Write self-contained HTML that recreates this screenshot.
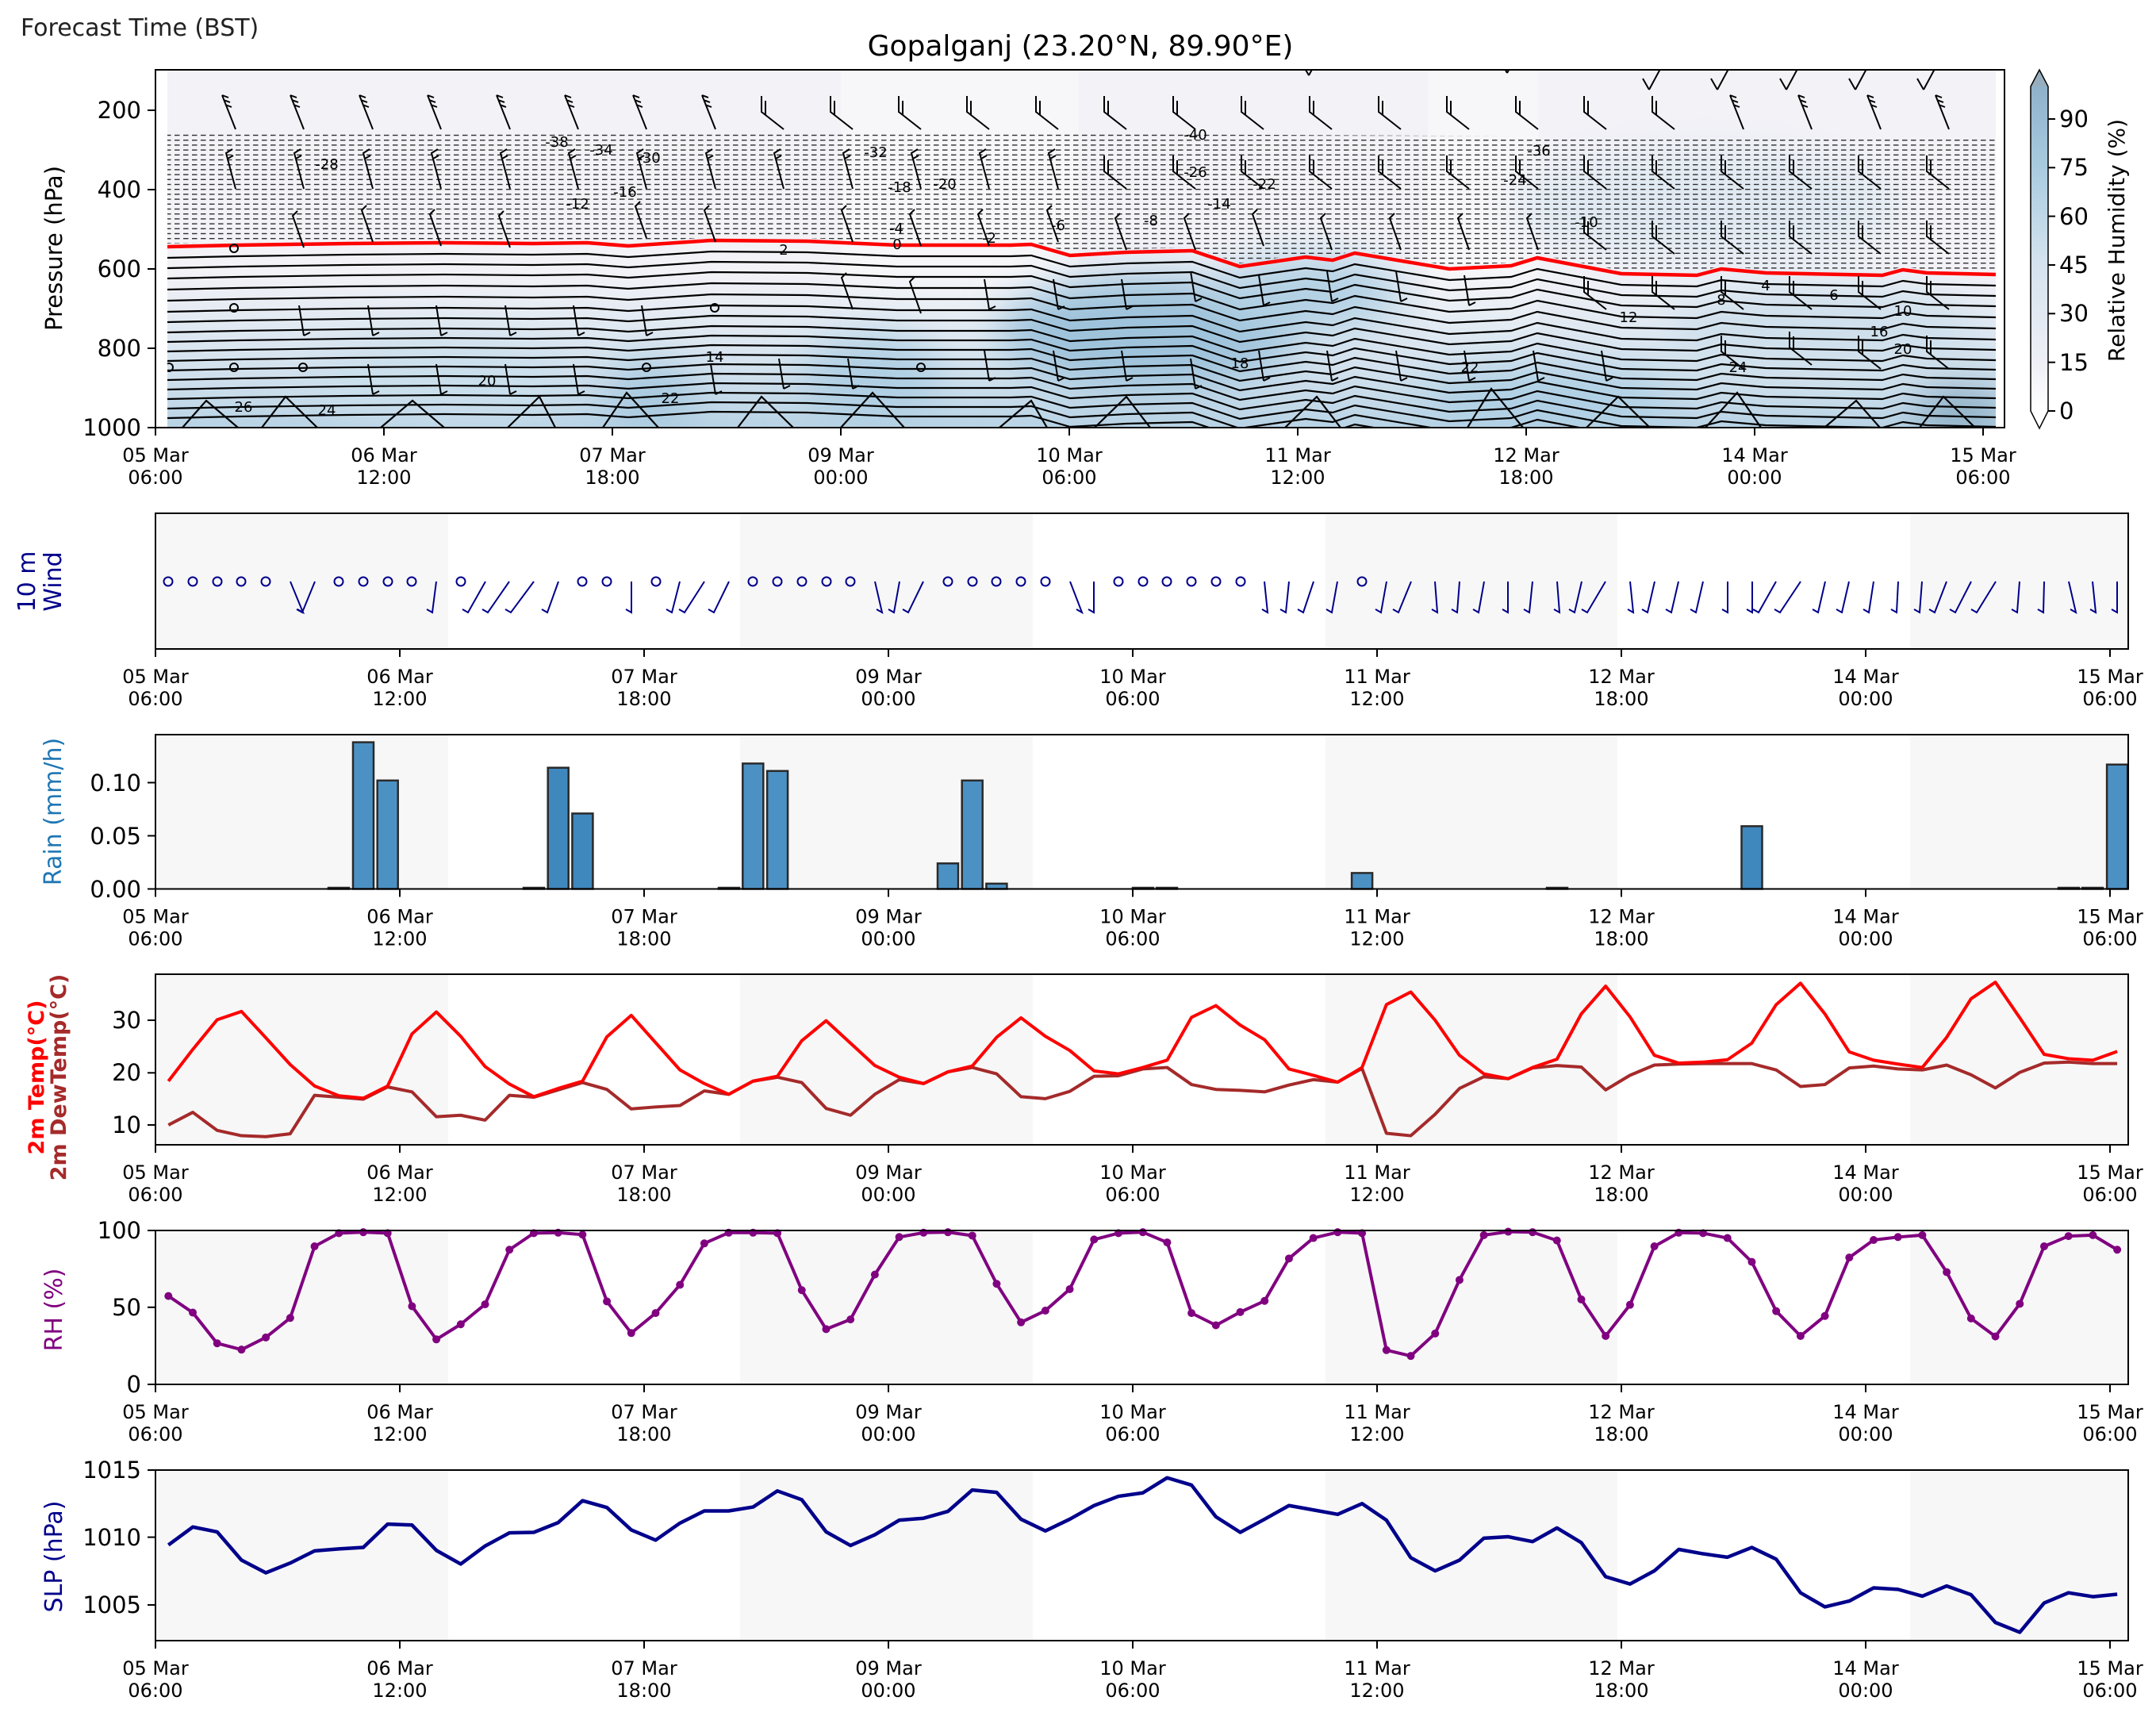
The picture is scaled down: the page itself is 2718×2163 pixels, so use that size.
<!DOCTYPE html>
<html><head><meta charset="utf-8"><style>
html,body{margin:0;padding:0;background:#fff}
svg{display:block}
text{font-family:"DejaVu Sans","Liberation Sans",sans-serif}
</style></head><body>
<svg width="2718" height="2163" viewBox="0 0 2718 2163" xmlns="http://www.w3.org/2000/svg">
<defs>
<pattern id="dash" patternUnits="userSpaceOnUse" width="11" height="6.2"><line x1="0" y1="3.1" x2="6.5" y2="3.1" stroke="#222" stroke-width="1.3"/></pattern>
<linearGradient id="gBlue" x1="0" y1="0" x2="0" y2="1"><stop offset="0" stop-color="#c9ddeb" stop-opacity="0"/><stop offset="0.5" stop-color="#c9ddeb" stop-opacity="0.6"/><stop offset="1" stop-color="#b8d3e5"/></linearGradient>
<linearGradient id="gCb" x1="0" y1="1" x2="0" y2="0"><stop offset="0" stop-color="#ffffff"/><stop offset="0.15" stop-color="#eeeff6"/><stop offset="0.45" stop-color="#d5e3ee"/><stop offset="0.75" stop-color="#a9cbe0"/><stop offset="1" stop-color="#8fb2ca"/></linearGradient>
<filter id="bl" x="-50%" y="-50%" width="200%" height="200%"><feGaussianBlur stdDeviation="25"/></filter>
<clipPath id="cTop"><rect x="211" y="88" width="2305" height="451"/></clipPath>
<path id="redp" d="M211,311 L300,309 L438,307 L560,306 L672,307 L740,306 L792,310 L897,303 L1018,304 L1131,309 L1274,309 L1300,308 L1349,322 L1420,318 L1503,316 L1563,336 L1646,324 L1680,328 L1708,319 L1827,339 L1905,335 L1938,325 L2044,345 L2139,347 L2170,339 L2226,344 L2373,347 L2399,340 L2429,344 L2516,346" fill="none"/>
<path id="sA" d="M0,0 L-17,-43 M-17,-43 L-9,-40 M-15,-37 L-7,-34 M-13,-31 L-5,-28" fill="none"/>
<path id="sL" d="M0,0 L-28,-22 L-28,-42 M-23,-18 L-23,-36" fill="none"/>
<path id="sB" d="M0,0 L-12,-45 L-4,-50 M-10,-38 L-3,-42" fill="none"/>
<path id="sC" d="M0,0 L-14,-40 L-8,-46" fill="none"/>
<path id="sD" d="M0,0 L-6,-38 M0,0 L8,-4" fill="none"/>
<path id="sV" d="M0,0 L-8,-14 M0,0 L14,-26" fill="none"/>
</defs>

<text x="26" y="45" font-size="30" fill="#222">Forecast Time (BST)</text>
<text x="1362" y="70" font-size="36" text-anchor="middle" fill="#000">Gopalganj (23.20°N, 89.90°E)</text>

<!-- ===== TOP PANEL ===== -->
<rect x="196" y="88" width="2331" height="451" fill="#fff"/>
<g clip-path="url(#cTop)">
<rect x="211" y="88" width="2305" height="451" fill="#f3f2f7"/>
<rect x="1060" y="88" width="300" height="451" fill="#f7f6f9"/>
<rect x="1800" y="88" width="140" height="451" fill="#f7f6f9"/>
<rect x="211" y="340" width="2305" height="199" fill="url(#gBlue)"/>
<g filter="url(#bl)">
<ellipse cx="1450" cy="420" rx="190" ry="75" fill="#9fc3db"/>
<ellipse cx="820" cy="500" rx="60" ry="45" fill="#a8c9df"/>
<ellipse cx="1100" cy="480" rx="90" ry="60" fill="#b0cfe3"/>
<ellipse cx="2470" cy="520" rx="60" ry="35" fill="#8fb0c6"/>
<ellipse cx="2150" cy="260" rx="250" ry="70" fill="#e0e9f2"/>
<ellipse cx="1950" cy="505" rx="160" ry="40" fill="#aecfe4"/>
<ellipse cx="560" cy="480" rx="170" ry="50" fill="#cadfec"/>
<ellipse cx="2300" cy="420" rx="200" ry="60" fill="#cfe0ec"/>
<ellipse cx="1650" cy="370" rx="120" ry="50" fill="#b3d1e4"/>
</g>
<path d="M211,166 L700,167 L1400,169 L2000,172 L2516,175 L2516,342 L2429,340 L2399,336 L2373,343 L2226,340 L2170,335 L2139,343 L2044,341 L1938,321 L1905,331 L1827,335 L1708,315 L1680,324 L1646,320 L1563,332 L1503,312 L1420,314 L1349,318 L1300,304 L1274,305 L1131,305 L1018,300 L897,299 L792,306 L740,302 L672,303 L560,302 L438,303 L300,305 L211,307 Z" fill="url(#dash)"/>
<g stroke="#000" stroke-width="2.2" fill="none">
<use href="#redp" y="14"/><use href="#redp" y="27"/><use href="#redp" y="40"/><use href="#redp" y="54"/><use href="#redp" y="68"/><use href="#redp" y="82"/><use href="#redp" y="95"/><use href="#redp" y="108"/><use href="#redp" y="120"/><use href="#redp" y="132"/><use href="#redp" y="144"/><use href="#redp" y="156"/><use href="#redp" y="168"/><use href="#redp" y="180"/><use href="#redp" y="192"/><use href="#redp" y="204"/><use href="#redp" y="216"/>
<path d="M230,539 L260,505 L300,539 M330,539 L360,500 L400,539 M480,539 L520,505 L560,539 M640,539 L680,500 L700,539 M760,539 L790,495 L830,539 M930,539 L960,500 L1000,539 M1060,539 L1100,495 L1140,539 M1260,539 L1300,505 L1320,539 M1380,539 L1420,500 L1450,539 M1620,539 L1660,500 L1690,539 M1850,539 L1880,490 L1920,539 M2000,539 L2040,500 L2080,539 M2150,539 L2190,495 L2220,539 M2300,539 L2340,505 L2370,539 M2420,539 L2450,500 L2490,539"/>
</g>
<use href="#redp" stroke="#ff0000" stroke-width="4.5"/>
<g stroke="#000" stroke-width="2" fill="none">
<use href="#sA" x="297" y="163"/><use href="#sA" x="383" y="163"/><use href="#sA" x="470" y="163"/><use href="#sA" x="556" y="163"/><use href="#sA" x="643" y="163"/><use href="#sA" x="729" y="163"/><use href="#sA" x="815" y="163"/><use href="#sA" x="902" y="163"/>
<use href="#sL" x="988" y="163"/><use href="#sL" x="1075" y="163"/><use href="#sL" x="1161" y="163"/><use href="#sL" x="1247" y="163"/><use href="#sL" x="1334" y="163"/><use href="#sL" x="1420" y="163"/><use href="#sL" x="1507" y="163"/><use href="#sL" x="1593" y="163"/><use href="#sL" x="1679" y="163"/><use href="#sL" x="1766" y="163"/><use href="#sL" x="1852" y="163"/><use href="#sL" x="1939" y="163"/><use href="#sL" x="2025" y="163"/><use href="#sL" x="2111" y="163"/><use href="#sA" x="2198" y="163"/><use href="#sA" x="2284" y="163"/><use href="#sA" x="2371" y="163"/><use href="#sA" x="2457" y="163"/>
<use href="#sV" x="2079" y="113"/><use href="#sV" x="2165" y="113"/><use href="#sV" x="2252" y="113"/><use href="#sV" x="2339" y="113"/><use href="#sV" x="2425" y="113"/><use href="#sV" x="1650" y="95"/><use href="#sV" x="1900" y="92"/>
<use href="#sB" x="297" y="238"/><use href="#sB" x="383" y="238"/><use href="#sB" x="470" y="238"/><use href="#sB" x="556" y="238"/><use href="#sB" x="643" y="238"/><use href="#sB" x="729" y="238"/><use href="#sB" x="815" y="238"/><use href="#sB" x="902" y="238"/><use href="#sB" x="988" y="238"/><use href="#sB" x="1075" y="238"/><use href="#sB" x="1161" y="238"/><use href="#sB" x="1247" y="238"/><use href="#sB" x="1334" y="238"/>
<use href="#sL" x="1420" y="238"/><use href="#sL" x="1507" y="238"/><use href="#sL" x="1593" y="238"/><use href="#sL" x="1679" y="238"/><use href="#sL" x="1766" y="238"/><use href="#sL" x="1852" y="238"/><use href="#sL" x="1939" y="238"/><use href="#sL" x="2025" y="238"/><use href="#sL" x="2111" y="238"/><use href="#sL" x="2198" y="238"/><use href="#sL" x="2284" y="238"/><use href="#sL" x="2371" y="238"/><use href="#sL" x="2457" y="238"/>
<use href="#sC" x="383" y="312"/><use href="#sC" x="470" y="305"/><use href="#sC" x="556" y="310"/><use href="#sC" x="643" y="312"/><use href="#sC" x="815" y="300"/><use href="#sC" x="902" y="305"/><use href="#sC" x="1075" y="305"/><use href="#sC" x="1161" y="310"/><use href="#sC" x="1247" y="310"/><use href="#sC" x="1334" y="305"/><use href="#sC" x="1420" y="315"/><use href="#sC" x="1507" y="315"/><use href="#sC" x="1593" y="310"/><use href="#sC" x="1679" y="315"/><use href="#sC" x="1766" y="315"/><use href="#sC" x="1852" y="315"/><use href="#sC" x="1939" y="315"/><use href="#sL" x="2025" y="315"/><use href="#sL" x="2111" y="320"/><use href="#sL" x="2198" y="320"/><use href="#sL" x="2284" y="320"/><use href="#sL" x="2371" y="320"/><use href="#sL" x="2457" y="320"/>
<use href="#sD" x="383" y="423"/><use href="#sD" x="470" y="423"/><use href="#sD" x="556" y="423"/><use href="#sD" x="643" y="423"/><use href="#sD" x="729" y="423"/><use href="#sD" x="815" y="423"/><use href="#sC" x="1075" y="390"/><use href="#sC" x="1161" y="395"/><use href="#sD" x="1247" y="390"/><use href="#sD" x="1334" y="390"/><use href="#sD" x="1420" y="390"/><use href="#sD" x="1507" y="380"/><use href="#sD" x="1593" y="385"/><use href="#sD" x="1679" y="380"/><use href="#sD" x="1766" y="380"/><use href="#sD" x="1852" y="385"/><use href="#sL" x="2025" y="390"/><use href="#sL" x="2111" y="390"/><use href="#sL" x="2198" y="390"/><use href="#sL" x="2284" y="390"/><use href="#sL" x="2371" y="390"/><use href="#sL" x="2457" y="390"/>
<use href="#sD" x="470" y="497"/><use href="#sD" x="556" y="497"/><use href="#sD" x="643" y="497"/><use href="#sD" x="729" y="497"/><use href="#sD" x="902" y="497"/><use href="#sD" x="988" y="490"/><use href="#sD" x="1075" y="490"/><use href="#sD" x="1247" y="480"/><use href="#sD" x="1334" y="480"/><use href="#sD" x="1420" y="480"/><use href="#sD" x="1507" y="490"/><use href="#sD" x="1593" y="480"/><use href="#sD" x="1679" y="480"/><use href="#sD" x="1766" y="480"/><use href="#sD" x="1852" y="480"/><use href="#sD" x="1939" y="480"/><use href="#sD" x="2025" y="480"/><use href="#sL" x="2198" y="465"/><use href="#sL" x="2284" y="460"/><use href="#sL" x="2371" y="465"/><use href="#sL" x="2457" y="465"/>
<circle cx="295" cy="313" r="5" /><circle cx="295" cy="388" r="5"/><circle cx="901" cy="388" r="5"/><circle cx="213" cy="463" r="5"/><circle cx="295" cy="463" r="5"/><circle cx="382" cy="463" r="5"/><circle cx="815" cy="463" r="5"/><circle cx="1161" cy="463" r="5"/>
</g>
<g font-size="18" fill="#000" text-anchor="middle">
<text x="702" y="185">-38</text><text x="758" y="195">-34</text><text x="818" y="205">-30</text><text x="412" y="213">-28</text><text x="1104" y="198">-32</text><text x="788" y="248">-16</text><text x="728" y="263">-12</text><text x="1134" y="242">-18</text><text x="1191" y="238">-20</text><text x="1334" y="290">-6</text><text x="1130" y="294">-4</text><text x="1247" y="306">-2</text><text x="1131" y="314">0</text><text x="988" y="321">2</text><text x="901" y="456">14</text><text x="614" y="486">20</text><text x="412" y="523">24</text><text x="307" y="519">26</text><text x="845" y="508">22</text>
<text x="1507" y="176">-40</text><text x="1940" y="196">-36</text><text x="1507" y="223">-26</text><text x="1594" y="238">-22</text><text x="1910" y="233">-24</text><text x="1537" y="263">-14</text><text x="1451" y="284">-8</text><text x="2000" y="286">-10</text><text x="2226" y="366">4</text><text x="2312" y="378">6</text><text x="2170" y="384">8</text><text x="2399" y="398">10</text><text x="2053" y="406">12</text><text x="2369" y="424">16</text><text x="2399" y="446">20</text><text x="1563" y="464">18</text><text x="1853" y="469">22</text><text x="2191" y="469">24</text>
</g>
</g>
<rect x="196" y="88" width="2331" height="451" fill="none" stroke="#000" stroke-width="2"/>
<g stroke="#000" stroke-width="2">
<line x1="186" y1="139" x2="196" y2="139"/><line x1="186" y1="239" x2="196" y2="239"/><line x1="186" y1="339" x2="196" y2="339"/><line x1="186" y1="439" x2="196" y2="439"/><line x1="186" y1="539" x2="196" y2="539"/>
<line x1="196" y1="539" x2="196" y2="549"/><line x1="484" y1="539" x2="484" y2="549"/><line x1="772" y1="539" x2="772" y2="549"/><line x1="1060" y1="539" x2="1060" y2="549"/><line x1="1348" y1="539" x2="1348" y2="549"/><line x1="1636" y1="539" x2="1636" y2="549"/><line x1="1924" y1="539" x2="1924" y2="549"/><line x1="2212" y1="539" x2="2212" y2="549"/><line x1="2500" y1="539" x2="2500" y2="549"/>
</g>
<g font-size="29" text-anchor="end">
<text x="178" y="149">200</text><text x="178" y="249">400</text><text x="178" y="349">600</text><text x="178" y="449">800</text><text x="178" y="549">1000</text>
</g>
<text transform="translate(78,313) rotate(-90)" font-size="29" text-anchor="middle">Pressure (hPa)</text>
<g font-size="24" text-anchor="middle">
<text x="196" y="582">05 Mar</text><text x="196" y="610">06:00</text>
<text x="484" y="582">06 Mar</text><text x="484" y="610">12:00</text>
<text x="772" y="582">07 Mar</text><text x="772" y="610">18:00</text>
<text x="1060" y="582">09 Mar</text><text x="1060" y="610">00:00</text>
<text x="1348" y="582">10 Mar</text><text x="1348" y="610">06:00</text>
<text x="1636" y="582">11 Mar</text><text x="1636" y="610">12:00</text>
<text x="1924" y="582">12 Mar</text><text x="1924" y="610">18:00</text>
<text x="2212" y="582">14 Mar</text><text x="2212" y="610">00:00</text>
<text x="2500" y="582">15 Mar</text><text x="2500" y="610">06:00</text>
</g>
<!-- colorbar -->
<rect x="2560" y="109" width="22" height="409" fill="url(#gCb)"/>
<polygon points="2560,109 2582,109 2571,88" fill="#97aebe"/>
<path d="M2560,109 L2571,88 L2582,109 L2582,518 L2571,540 L2560,518 Z" fill="none" stroke="#000" stroke-width="1.5"/>
<g stroke="#000" stroke-width="2">
<line x1="2582" y1="518" x2="2591" y2="518"/><line x1="2582" y1="456.7" x2="2591" y2="456.7"/><line x1="2582" y1="395.3" x2="2591" y2="395.3"/><line x1="2582" y1="334" x2="2591" y2="334"/><line x1="2582" y1="272.6" x2="2591" y2="272.6"/><line x1="2582" y1="211.3" x2="2591" y2="211.3"/><line x1="2582" y1="150" x2="2591" y2="150"/>
</g>
<g font-size="29">
<text x="2596" y="528">0</text><text x="2596" y="467">15</text><text x="2596" y="405">30</text><text x="2596" y="344">45</text><text x="2596" y="283">60</text><text x="2596" y="221">75</text><text x="2596" y="160">90</text>
</g>
<text transform="translate(2678,303) rotate(-90)" font-size="28" text-anchor="middle">Relative Humidity (%)</text>

<!-- ===== LOWER PANELS bands ===== -->
<g fill="#f7f7f7">
<rect x="196" y="647" width="369" height="171"/><rect x="933" y="647" width="369" height="171"/><rect x="1671" y="647" width="368" height="171"/><rect x="2408" y="647" width="275" height="171"/>
<rect x="196" y="926" width="369" height="194.5"/><rect x="933" y="926" width="369" height="194.5"/><rect x="1671" y="926" width="368" height="194.5"/><rect x="2408" y="926" width="275" height="194.5"/>
<rect x="196" y="1228" width="369" height="215"/><rect x="933" y="1228" width="369" height="215"/><rect x="1671" y="1228" width="368" height="215"/><rect x="2408" y="1228" width="275" height="215"/>
<rect x="196" y="1551" width="369" height="194"/><rect x="933" y="1551" width="369" height="194"/><rect x="1671" y="1551" width="368" height="194"/><rect x="2408" y="1551" width="275" height="194"/>
<rect x="196" y="1853" width="369" height="215"/><rect x="933" y="1853" width="369" height="215"/><rect x="1671" y="1853" width="368" height="215"/><rect x="2408" y="1853" width="275" height="215"/>
</g>

<!-- Wind -->
<g stroke="#00008b" stroke-width="2" fill="none">
<path d="M366,733L382,772l-7,-4 M397,733L381,772l-7,-4 M550,733L545,772l-7,-4 M612,733L590,772l-7,-4 M642,733L615,772l-7,-4 M673,733L644,772l-7,-4 M704,733L690,772l-7,-4 M796,733L796,772l-7,-4 M857,733L847,772l-7,-4 M888,733L863,772l-7,-4 M919,733L900,772l-7,-4 M1103,733L1112,772l-7,-4 M1134,733L1127,772l-7,-4 M1164,733L1145,772l-7,-4 M1349,733L1364,772l-7,-4 M1379,733L1379,772l-7,-4 M1594,733L1598,772l-7,-4 M1625,733L1621,772l-7,-4 M1656,733L1643,772l-7,-4 M1686,733L1679,772l-7,-4 M1748,733L1741,772l-7,-4 M1779,733L1763,772l-7,-4 M1809,733L1812,772l-7,-4 M1840,733L1837,772l-7,-4 M1871,733L1864,772l-7,-4 M1901,733L1901,772l-7,-4 M1932,733L1928,772l-7,-4 M1963,733L1966,772l-7,-4 M1994,733L1985,772l-7,-4 M2024,733L2001,772l-7,-4 M2055,733L2059,772l-7,-4 M2086,733L2077,772l-7,-4 M2116,733L2107,772l-7,-4 M2147,733L2138,772l-7,-4 M2178,733L2178,772l-7,-4 M2209,733L2209,772l-7,-4 M2239,733L2217,772l-7,-4 M2270,733L2244,772l-7,-4 M2301,733L2292,772l-7,-4 M2331,733L2322,772l-7,-4 M2362,733L2356,772l-7,-4 M2393,733L2391,772l-7,-4 M2423,733L2420,772l-7,-4 M2454,733L2439,772l-7,-4 M2485,733L2465,772l-7,-4 M2516,733L2492,772l-7,-4 M2546,733L2543,772l-7,-4 M2577,733L2576,772l-7,-4 M2608,733L2617,772l-7,-4 M2638,733L2642,772l-7,-4 M2669,733L2669,772l-7,-4"/>
<circle cx="212" cy="733" r="5.5"/><circle cx="243" cy="733" r="5.5"/><circle cx="274" cy="733" r="5.5"/><circle cx="304" cy="733" r="5.5"/><circle cx="335" cy="733" r="5.5"/><circle cx="427" cy="733" r="5.5"/><circle cx="458" cy="733" r="5.5"/><circle cx="489" cy="733" r="5.5"/><circle cx="519" cy="733" r="5.5"/><circle cx="581" cy="733" r="5.5"/><circle cx="734" cy="733" r="5.5"/><circle cx="765" cy="733" r="5.5"/><circle cx="827" cy="733" r="5.5"/><circle cx="949" cy="733" r="5.5"/><circle cx="980" cy="733" r="5.5"/><circle cx="1011" cy="733" r="5.5"/><circle cx="1042" cy="733" r="5.5"/><circle cx="1072" cy="733" r="5.5"/><circle cx="1195" cy="733" r="5.5"/><circle cx="1226" cy="733" r="5.5"/><circle cx="1256" cy="733" r="5.5"/><circle cx="1287" cy="733" r="5.5"/><circle cx="1318" cy="733" r="5.5"/><circle cx="1410" cy="733" r="5.5"/><circle cx="1441" cy="733" r="5.5"/><circle cx="1471" cy="733" r="5.5"/><circle cx="1502" cy="733" r="5.5"/><circle cx="1533" cy="733" r="5.5"/><circle cx="1564" cy="733" r="5.5"/><circle cx="1717" cy="733" r="5.5"/>
</g>
<rect x="196" y="647" width="2487" height="171" fill="none" stroke="#000" stroke-width="2"/>
<text transform="translate(44,733) rotate(-90)" font-size="30" text-anchor="middle" fill="#00008b">10 m</text>
<text transform="translate(77,733) rotate(-90)" font-size="30" text-anchor="middle" fill="#00008b">Wind</text>

<!-- Rain -->
<g fill="#4c91c4" stroke="#2a2a2a" stroke-width="2.5">
<rect x="445" y="935.6" width="26" height="184.9"/><rect x="475.7" y="983.8" width="26" height="136.7"/>
<rect x="690.7" y="967.7" width="26" height="152.8" fill="#3f88be"/><rect x="721.4" y="1025.4" width="26" height="95.1" fill="#3f88be"/>
<rect x="936.3" y="962.4" width="26" height="158.1"/><rect x="967.1" y="971.8" width="26" height="148.7"/>
<rect x="1182" y="1088.3" width="26" height="32.2"/><rect x="1212.7" y="983.8" width="26" height="136.7"/><rect x="1243.4" y="1113.8" width="26" height="6.7"/>
<rect x="1704.1" y="1100.4" width="26" height="20.1"/><rect x="2195.5" y="1041.4" width="26" height="79.1" fill="#3f88be"/><rect x="2656.1" y="963.7" width="26" height="156.8"/>
<rect x="414" y="1119" width="26" height="1.5"/><rect x="660" y="1119" width="26" height="1.5"/><rect x="906" y="1119" width="26" height="1.5"/><rect x="1428" y="1119" width="26" height="1.5"/><rect x="1458" y="1119" width="26" height="1.5"/><rect x="1950" y="1119" width="26" height="1.5"/><rect x="2595" y="1119" width="26" height="1.5"/><rect x="2625" y="1119" width="26" height="1.5"/>
</g>
<rect x="196" y="926" width="2487" height="194.5" fill="none" stroke="#000" stroke-width="2"/>
<g stroke="#000" stroke-width="2"><line x1="186" y1="1120.5" x2="196" y2="1120.5"/><line x1="186" y1="1053.5" x2="196" y2="1053.5"/><line x1="186" y1="986.5" x2="196" y2="986.5"/></g>
<g font-size="29" text-anchor="end"><text x="178" y="1131">0.00</text><text x="178" y="1064">0.05</text><text x="178" y="997">0.10</text></g>
<text transform="translate(77,1023) rotate(-90)" font-size="30" text-anchor="middle" fill="#1f77b4">Rain (mm/h)</text>

<!-- Temp -->
<g transform="translate(212.3,1200) scale(30.71,0.6142)" fill="none" stroke-linejoin="round">
<polyline vector-effect="non-scaling-stroke" stroke="#a52a2a" stroke-width="4" points="0,355 1,329 2,366 3,377 4,379 5,373 6,294 7,298 8,302 9,277 10,287 11,338 12,335 13,345 14,294 15,298 16,283 17,268 18,282 19,322 20,318 21,315 22,285 23,292 24,265 25,257 26,268 27,321 28,335 29,292 30,262 31,270 32,246 33,237 34,250 35,297 36,301 37,286 38,255 39,254 40,240 41,237 42,272 43,282 44,284 45,287 46,273 47,262 48,267 49,239 50,372 51,377 52,333 53,280 54,256 55,260 56,238 57,233 58,236 59,283 60,253 61,232 62,230 63,229 64,229 65,229 66,242 67,276 68,272 69,238 70,234 71,240 72,242 73,232 74,252 75,279 76,247 77,228 78,226 79,229 80,229"/>
<polyline vector-effect="non-scaling-stroke" stroke="#ff0000" stroke-width="4" points="0,265 1,200 2,139 3,122 4,176 5,231 6,275 7,295 8,300 9,275 10,168 11,123 12,173 13,235 14,271 15,297 16,280 17,265 18,174 19,130 20,186 21,242 22,270 23,292 24,265 25,255 26,182 27,141 28,187 29,233 30,257 31,270 32,246 33,234 34,175 35,135 36,173 37,202 38,244 39,250 40,237 41,222 42,134 43,110 44,150 45,180 46,240 47,253 48,267 49,237 50,108 51,82 52,140 53,212 54,250 55,260 56,237 57,220 58,127 59,70 60,133 61,212 62,228 63,226 64,221 65,187 66,108 67,64 68,127 69,205 70,222 71,230 72,237 73,175 74,96 75,62 76,135 77,210 78,219 79,222 80,204"/>
</g>
<rect x="196" y="1228" width="2487" height="215" fill="none" stroke="#000" stroke-width="2"/>
<g stroke="#000" stroke-width="2"><line x1="186" y1="1418" x2="196" y2="1418"/><line x1="186" y1="1352.3" x2="196" y2="1352.3"/><line x1="186" y1="1286" x2="196" y2="1286"/></g>
<g font-size="29" text-anchor="end"><text x="178" y="1428">10</text><text x="178" y="1362">20</text><text x="178" y="1296">30</text></g>
<text transform="translate(55,1358) rotate(-90)" font-size="27" font-weight="bold" text-anchor="middle" fill="#ff0000">2m Temp(°C)</text>
<text transform="translate(83,1358) rotate(-90)" font-size="27" font-weight="bold" text-anchor="middle" fill="#a52a2a">2m DewTemp(°C)</text>

<!-- RH -->
<g transform="translate(212.3,1200) scale(30.71,0.6142)" fill="none" stroke="#800080" stroke-linejoin="round">
<polyline vector-effect="non-scaling-stroke" stroke-width="4" points="0,706 1,740 2,803 3,816 4,791 5,751 6,604 7,577 8,575 9,577 10,727 11,795 12,764 13,723 14,611 15,577 16,576 17,580 18,717 19,782 20,741 21,683 22,598 23,576 24,576 25,577 26,694 27,774 28,754 29,662 30,585 31,576 32,575 33,582 34,681 35,760 36,736 37,692 38,590 39,577 40,575 41,596 42,741 43,766 44,739 45,716 46,629 47,587 48,575 49,577 50,817 51,829 52,783 53,673 54,581 55,574 56,575 57,592 58,713 59,788 60,724 61,604 62,576 63,577 64,587 65,636 66,737 67,788 68,747 69,627 70,591 71,585 72,581 73,657 74,752 75,789 76,722 77,604 78,583 79,581 80,611"/>
<path vector-effect="non-scaling-stroke" stroke-width="10" stroke-linecap="round" d="M0,706h0M1,740h0M2,803h0M3,816h0M4,791h0M5,751h0M6,604h0M7,577h0M8,575h0M9,577h0M10,727h0M11,795h0M12,764h0M13,723h0M14,611h0M15,577h0M16,576h0M17,580h0M18,717h0M19,782h0M20,741h0M21,683h0M22,598h0M23,576h0M24,576h0M25,577h0M26,694h0M27,774h0M28,754h0M29,662h0M30,585h0M31,576h0M32,575h0M33,582h0M34,681h0M35,760h0M36,736h0M37,692h0M38,590h0M39,577h0M40,575h0M41,596h0M42,741h0M43,766h0M44,739h0M45,716h0M46,629h0M47,587h0M48,575h0M49,577h0M50,817h0M51,829h0M52,783h0M53,673h0M54,581h0M55,574h0M56,575h0M57,592h0M58,713h0M59,788h0M60,724h0M61,604h0M62,576h0M63,577h0M64,587h0M65,636h0M66,737h0M67,788h0M68,747h0M69,627h0M70,591h0M71,585h0M72,581h0M73,657h0M74,752h0M75,789h0M76,722h0M77,604h0M78,583h0M79,581h0M80,611h0"/>
</g>
<rect x="196" y="1551" width="2487" height="194" fill="none" stroke="#000" stroke-width="2"/>
<g stroke="#000" stroke-width="2"><line x1="186" y1="1745" x2="196" y2="1745"/><line x1="186" y1="1647.8" x2="196" y2="1647.8"/><line x1="186" y1="1551" x2="196" y2="1551"/></g>
<g font-size="29" text-anchor="end"><text x="178" y="1755">0</text><text x="178" y="1658">50</text><text x="178" y="1561">100</text></g>
<text transform="translate(78,1651) rotate(-90)" font-size="30" text-anchor="middle" fill="#800080">RH (%)</text>

<!-- SLP -->
<g transform="translate(212.3,1200) scale(30.71,0.6142)" fill="none" stroke="#00008b" stroke-linejoin="round">
<polyline vector-effect="non-scaling-stroke" stroke-width="4.5" points="0,1217 1,1180 2,1190 3,1248 4,1274 5,1254 6,1229 7,1225 8,1222 9,1174 10,1176 11,1228 12,1256 13,1219 14,1192 15,1191 16,1171 17,1126 18,1140 19,1186 20,1207 21,1172 22,1147 23,1147 24,1139 25,1106 26,1124 27,1190 28,1218 29,1196 30,1166 31,1162 32,1148 33,1104 34,1109 35,1164 36,1188 37,1164 38,1136 39,1117 40,1110 41,1079 42,1094 43,1159 44,1191 45,1164 46,1136 47,1145 48,1154 49,1132 50,1166 51,1243 52,1270 53,1248 54,1203 55,1200 56,1210 57,1182 58,1212 59,1282 60,1297 61,1270 62,1226 63,1235 64,1242 65,1222 66,1246 67,1315 68,1344 69,1332 70,1305 71,1308 72,1322 73,1301 74,1319 75,1376 76,1396 77,1336 78,1315 79,1323 80,1318"/>
</g>
<rect x="196" y="1853" width="2487" height="215" fill="none" stroke="#000" stroke-width="2"/>
<g stroke="#000" stroke-width="2"><line x1="186" y1="2023" x2="196" y2="2023"/><line x1="186" y1="1937.6" x2="196" y2="1937.6"/><line x1="186" y1="1853" x2="196" y2="1853"/></g>
<g font-size="29" text-anchor="end"><text x="178" y="2033">1005</text><text x="178" y="1948">1010</text><text x="178" y="1863">1015</text></g>
<text transform="translate(78,1962) rotate(-90)" font-size="30" text-anchor="middle" fill="#00008b">SLP (hPa)</text>

<!-- x ticks for lower panels -->
<g stroke="#000" stroke-width="2">
<path d="M196,818v10M504,818v10M812,818v10M1120,818v10M1428,818v10M1736,818v10M2044,818v10M2352,818v10M2660,818v10
M196,1120.5v10M504,1120.5v10M812,1120.5v10M1120,1120.5v10M1428,1120.5v10M1736,1120.5v10M2044,1120.5v10M2352,1120.5v10M2660,1120.5v10
M196,1443v10M504,1443v10M812,1443v10M1120,1443v10M1428,1443v10M1736,1443v10M2044,1443v10M2352,1443v10M2660,1443v10
M196,1745v10M504,1745v10M812,1745v10M1120,1745v10M1428,1745v10M1736,1745v10M2044,1745v10M2352,1745v10M2660,1745v10
M196,2068v10M504,2068v10M812,2068v10M1120,2068v10M1428,2068v10M1736,2068v10M2044,2068v10M2352,2068v10M2660,2068v10"/>
</g>
<g font-size="24" text-anchor="middle">
<g transform="translate(0,818)"><text x="196" y="43">05 Mar</text><text x="196" y="71">06:00</text><text x="504" y="43">06 Mar</text><text x="504" y="71">12:00</text><text x="812" y="43">07 Mar</text><text x="812" y="71">18:00</text><text x="1120" y="43">09 Mar</text><text x="1120" y="71">00:00</text><text x="1428" y="43">10 Mar</text><text x="1428" y="71">06:00</text><text x="1736" y="43">11 Mar</text><text x="1736" y="71">12:00</text><text x="2044" y="43">12 Mar</text><text x="2044" y="71">18:00</text><text x="2352" y="43">14 Mar</text><text x="2352" y="71">00:00</text><text x="2660" y="43">15 Mar</text><text x="2660" y="71">06:00</text></g>
<g transform="translate(0,1120.5)"><text x="196" y="43">05 Mar</text><text x="196" y="71">06:00</text><text x="504" y="43">06 Mar</text><text x="504" y="71">12:00</text><text x="812" y="43">07 Mar</text><text x="812" y="71">18:00</text><text x="1120" y="43">09 Mar</text><text x="1120" y="71">00:00</text><text x="1428" y="43">10 Mar</text><text x="1428" y="71">06:00</text><text x="1736" y="43">11 Mar</text><text x="1736" y="71">12:00</text><text x="2044" y="43">12 Mar</text><text x="2044" y="71">18:00</text><text x="2352" y="43">14 Mar</text><text x="2352" y="71">00:00</text><text x="2660" y="43">15 Mar</text><text x="2660" y="71">06:00</text></g>
<g transform="translate(0,1443)"><text x="196" y="43">05 Mar</text><text x="196" y="71">06:00</text><text x="504" y="43">06 Mar</text><text x="504" y="71">12:00</text><text x="812" y="43">07 Mar</text><text x="812" y="71">18:00</text><text x="1120" y="43">09 Mar</text><text x="1120" y="71">00:00</text><text x="1428" y="43">10 Mar</text><text x="1428" y="71">06:00</text><text x="1736" y="43">11 Mar</text><text x="1736" y="71">12:00</text><text x="2044" y="43">12 Mar</text><text x="2044" y="71">18:00</text><text x="2352" y="43">14 Mar</text><text x="2352" y="71">00:00</text><text x="2660" y="43">15 Mar</text><text x="2660" y="71">06:00</text></g>
<g transform="translate(0,1745)"><text x="196" y="43">05 Mar</text><text x="196" y="71">06:00</text><text x="504" y="43">06 Mar</text><text x="504" y="71">12:00</text><text x="812" y="43">07 Mar</text><text x="812" y="71">18:00</text><text x="1120" y="43">09 Mar</text><text x="1120" y="71">00:00</text><text x="1428" y="43">10 Mar</text><text x="1428" y="71">06:00</text><text x="1736" y="43">11 Mar</text><text x="1736" y="71">12:00</text><text x="2044" y="43">12 Mar</text><text x="2044" y="71">18:00</text><text x="2352" y="43">14 Mar</text><text x="2352" y="71">00:00</text><text x="2660" y="43">15 Mar</text><text x="2660" y="71">06:00</text></g>
<g transform="translate(0,2068)"><text x="196" y="43">05 Mar</text><text x="196" y="71">06:00</text><text x="504" y="43">06 Mar</text><text x="504" y="71">12:00</text><text x="812" y="43">07 Mar</text><text x="812" y="71">18:00</text><text x="1120" y="43">09 Mar</text><text x="1120" y="71">00:00</text><text x="1428" y="43">10 Mar</text><text x="1428" y="71">06:00</text><text x="1736" y="43">11 Mar</text><text x="1736" y="71">12:00</text><text x="2044" y="43">12 Mar</text><text x="2044" y="71">18:00</text><text x="2352" y="43">14 Mar</text><text x="2352" y="71">00:00</text><text x="2660" y="43">15 Mar</text><text x="2660" y="71">06:00</text></g>
</g>
</svg>
</body></html>
